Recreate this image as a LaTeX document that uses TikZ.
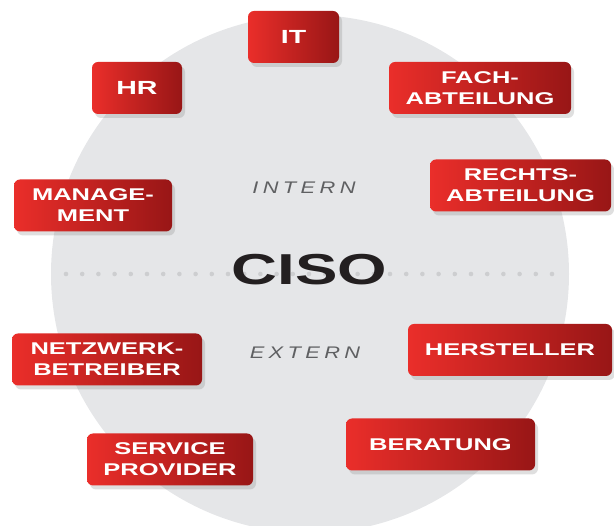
\documentclass[tikz,border=0pt]{standalone}
\usepackage{fontspec}
\setmainfont{Liberation Sans}
\newfontfamily\boxfont{Liberation Sans}[FakeStretch=1.5]
\newfontfamily\cisofont{Liberation Sans}[FakeStretch=1.47]
\newfontfamily\sidefont{Liberation Sans}[FakeStretch=1.3,LetterSpace=26]
\usetikzlibrary{shadows}

\definecolor{boxred}{RGB}{234,46,42}
\definecolor{boxdark}{RGB}{152,22,22}
\definecolor{circlegray}{RGB}{229,230,232}
\definecolor{dotgray}{RGB}{205,206,208}
\definecolor{cisoblack}{RGB}{35,31,32}
\definecolor{sidegray}{RGB}{95,96,98}

\tikzset{
  redbox/.style={rounded corners=6pt, left color=boxred, right color=boxdark,
    text=white, align=center, minimum height=52pt, inner sep=0pt,
    font=\boxfont\bfseries\fontsize{17}{21}\selectfont,
    drop shadow={shadow xshift=3pt, shadow yshift=-4pt, opacity=.25}},
  bigtext/.style={font=\boxfont\bfseries\fontsize{19}{21}\selectfont},
  sidelabel/.style={anchor=base, inner sep=0pt, text=sidegray,
    font=\sidefont\itshape\fontsize{16.8}{20}\selectfont}
}

\begin{document}
\begin{tikzpicture}[x=1pt,y=-1pt]
    \useasboundingbox (0,0) rectangle (614,526);

    % Kreis
    \fill[circlegray] (310,274) circle (259pt);

    % Punktlinie
    \foreach \i in {0,...,30}
      \fill[dotgray] (66+\i*16.2,274) circle (2.3pt);

    % Mitte
    \node[anchor=base, inner sep=0pt, text=cisoblack,
      font=\cisofont\bfseries\fontsize{43.3}{45}\selectfont] (ciso) at (309.5,285) {CISO};
    \node[sidelabel] (intern) at (304,194) {INTERN};
    \node[sidelabel] (extern) at (305,359) {EXTERN};

    % intern
    \node[redbox, bigtext, minimum width=91pt] (it) at (293.5,37) {IT};
    \node[redbox, bigtext, minimum width=90pt] (hr) at (137,88) {HR};
    \node[redbox, minimum width=182pt] (fach) at (480,88) {FACH-\\ABTEILUNG};
    \node[redbox, minimum width=181pt] (recht) at (520.5,185.5) {RECHTS-\\ABTEILUNG};
    \node[redbox, minimum width=158pt] (mgmt) at (93,205.5) {MANAGE-\\MENT};

    % extern
    \node[redbox, minimum width=190pt] (netz) at (107,359.5) {NETZWERK-\\BETREIBER};
    \node[redbox, minimum width=204pt] (herst) at (510,350) {HERSTELLER};
    \node[redbox, minimum width=166pt] (serv) at (170,459.5) {SERVICE\\PROVIDER};
    \node[redbox, minimum width=189pt] (berat) at (440.5,444.5) {BERATUNG};
\end{tikzpicture}
\end{document}
